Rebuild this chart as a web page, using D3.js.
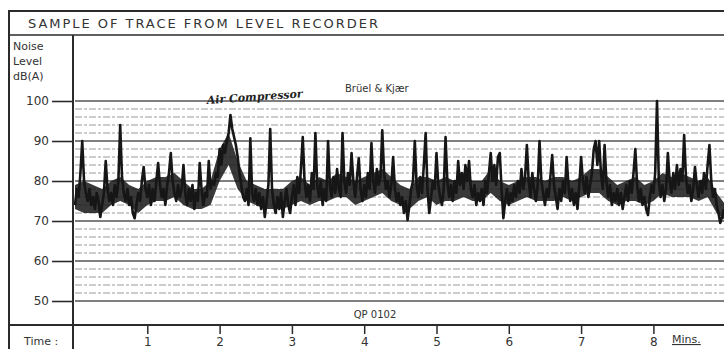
<!DOCTYPE html>
<html>
<head>
<meta charset="utf-8">
<script src="https://cdn.jsdelivr.net/npm/d3@7"></script>
<style>
  body { margin: 0; background: #fff; }
  svg { display: block; }
  .lbl { font-family: "DejaVu Sans", sans-serif; fill: #333; }
</style>
</head>
<body>
<svg id="chart" width="724" height="349"></svg>
<script>
// level axis (dB(A)) and time axis (minutes)
const dbTicks = [50, 60, 70, 80, 90, 100];
const timeTicks = [1, 2, 3, 4, 5, 6, 7, 8];
const stepMins = 0.025;
const bandStep = 0.125;

// trace samples, one every 0.025 min
const trace = [
  74,78,76,82,90,80,77,75,78,74,76,73,77,75,71,74,77,85,78,75,
  77,74,79,76,80,94,81,77,75,78,74,76,72,70.7,74,77,75,80,83.5,78,
  76,79,74,78,75,80,84.5,79,76,78,74,79,82,87,80,77,75,79,76,78,
  84,77,74,78,75,79,73,77,75,84.5,78,74,77,76,85,78,80,79,82,81,
  88,84,89,87,90,92,96.5,93,91,89,86,82,79,76,75,78,74,90.7,77,75,
  78,74,77,73,76,71,75,79,93,78,74,72,76,73,77,71,75,78,74,72,
  76,79,74,81,77,83,91,80,76,79,75,82,78,92,79,76,80,74,78,75,
  90,79,76,81,77,83,78,76,92,80,77,82,79,87,80,76,81,85.7,78,75,
  79,76,82,78,89.5,80,77,83,79,81,92.7,82,78,80,76,79,86,78,75,77,
  74,76,72,75,70.2,74,78,80,90,79,76,81,77,84,92,78,72,76,80,78,
  87,79,76,74,78,91,80,76,79,75,80,77,85,79,82,78,84,80,85,78,
  76,79,74,77,75,78,74,80,77,82,87,80,84,79,86,87,78,70.7,75,78,
  74,77,75,79,76,80,77,83,78,81,89,80,76,82,78,75,79,90,80,77,
  74,78,76,81,86.5,79,76,73,78,75,80,77,86,79,75,78,74,77,73,79,
  86,80,77,81,76,79,82,88,90,84,90,82,78,89,80,76,79,74,77,75,
  78,74,77,73,76,79,75,80,77,82,88,79,75,78,74,76,73,71.5,76,79,
  77,82,100,80,76,79,75,78,87,80,77,82,78,84,79,83,80,91.5,81,77,
  79,75,78,83.5,79,76,80,77,82,78,84,89,80,76,78,74,72,69.5,71,73
];

// dense part of the pen trace, low / high edge every 0.125 min
const bandLow = [
  73,72,72,72,74,75,74,72,74,75,75,76,74,73,73,74,
  80,84,78,75,74,73,73,73,74,75,74,75,75,76,76,74,
  75,76,77,75,74,73,75,76,74,75,75,76,75,75,77,75,
  74,75,76,75,75,75,76,75,76,77,77,75,74,75,75,74,
  75,77,76,76,76,75,76,72,70
];
const bandHigh = [
  79,80,79,78,80,81,79,78,80,81,81,82,80,78,78,80,
  88,92,85,80,79,78,78,78,80,81,79,81,80,82,81,80,
  81,82,83,81,79,78,81,81,80,81,80,82,80,80,83,80,
  79,80,81,81,80,81,81,80,81,83,83,81,79,80,81,79,
  80,82,81,82,81,80,81,77,74
];

const svg = d3.select('#chart');
const ink = '#2b2b2b';

const x = d3.scaleLinear().domain([0, 9]).range([75, 725.7]);
const y = d3.scaleLinear().domain([50, 100]).range([301, 101]);

// frame
svg.append('line').attr('x1', 9).attr('x2', 724).attr('y1', 11).attr('y2', 11)
  .attr('stroke', ink).attr('stroke-width', 2);
svg.append('line').attr('x1', 9).attr('x2', 9).attr('y1', 10).attr('y2', 349)
  .attr('stroke', ink).attr('stroke-width', 2);
svg.append('line').attr('x1', 9).attr('x2', 724).attr('y1', 35).attr('y2', 35)
  .attr('stroke', ink).attr('stroke-width', 1.5);
svg.append('line').attr('x1', 73).attr('x2', 73).attr('y1', 35).attr('y2', 349)
  .attr('stroke', ink).attr('stroke-width', 2);
svg.append('line').attr('x1', 9).attr('x2', 724).attr('y1', 325).attr('y2', 325)
  .attr('stroke', ink).attr('stroke-width', 2);

svg.append('text').attr('class', 'lbl')
  .attr('x', 28).attr('y', 28)
  .attr('textLength', 350).attr('lengthAdjust', 'spacing')
  .style('font-size', '13px')
  .text('SAMPLE OF TRACE FROM LEVEL RECORDER');

// y label
['Noise', 'Level', 'dB(A)'].forEach((t, i) => {
  svg.append('text').attr('class', 'lbl')
    .attr('x', 13).attr('y', 50 + i * 15)
    .style('font-size', '11px').text(t);
});

// grid: minor dashed every 2 dB, major solid every 10 dB
const minor = d3.range(50, 101, 2).filter(d => d % 10 !== 0);
svg.append('g').selectAll('line').data(minor).join('line')
  .attr('x1', 75).attr('x2', 724)
  .attr('y1', d => y(d)).attr('y2', d => y(d))
  .attr('stroke', '#9a9a9a').attr('stroke-width', 1)
  .attr('stroke-dasharray', '7,2,3,2');

svg.append('g').selectAll('line').data(dbTicks).join('line')
  .attr('x1', 75).attr('x2', 724)
  .attr('y1', d => y(d)).attr('y2', d => y(d))
  .attr('stroke', '#555').attr('stroke-width', 1.6);

const yAxis = svg.append('g')
  .attr('transform', 'translate(73,0)')
  .call(d3.axisLeft(y).tickValues(dbTicks).tickSize(21).tickPadding(3));
yAxis.select('.domain').remove();
yAxis.selectAll('line').attr('stroke', ink).attr('stroke-width', 1.6);
yAxis.selectAll('text').attr('class', 'lbl')
  .style('font-size', '12px').attr('fill', '#333');

// annotations
svg.append('text').attr('class', 'lbl')
  .attr('x', 345).attr('y', 92).style('font-size', '10px')
  .text('Brüel & Kjær');
svg.append('text')
  .attr('x', 207).attr('y', 104)
  .style('font-family', '"DejaVu Serif", serif')
  .style('font-style', 'italic').style('font-size', '11px')
  .style('font-weight', 'bold')
  .attr('fill', '#222')
  .attr('transform', 'rotate(-4,207,104)')
  .text('Air Compressor');
svg.append('text').attr('class', 'lbl')
  .attr('x', 375).attr('y', 318).attr('text-anchor', 'middle')
  .style('font-size', '10px').text('QP 0102');

// trace
svg.append('defs').append('clipPath').attr('id', 'clip')
  .append('rect').attr('x', 74).attr('y', 36).attr('width', 650).attr('height', 288);

const band = d3.area()
  .x((d, i) => x(i * bandStep))
  .y0((d, i) => y(bandLow[i]))
  .y1((d, i) => y(bandHigh[i]));
svg.append('path')
  .datum(bandLow)
  .attr('clip-path', 'url(#clip)')
  .attr('d', band)
  .attr('fill', '#161616')
  .attr('opacity', 0.85);

const line = d3.line()
  .x((d, i) => x(i * stepMins))
  .y(d => y(d));
svg.append('path')
  .datum(trace)
  .attr('clip-path', 'url(#clip)')
  .attr('d', line)
  .attr('fill', 'none')
  .attr('stroke', '#161616')
  .attr('stroke-width', 2.6)
  .attr('stroke-linejoin', 'round');

// time axis
const xAxis = svg.append('g')
  .attr('transform', 'translate(0,326)')
  .call(d3.axisBottom(x).tickValues(timeTicks).tickSize(8).tickPadding(3));
xAxis.select('.domain').remove();
xAxis.selectAll('line').attr('stroke', ink).attr('stroke-width', 1.5);
xAxis.selectAll('text').attr('class', 'lbl')
  .style('font-size', '12px').attr('fill', '#333');

svg.append('text').attr('class', 'lbl')
  .attr('x', 24).attr('y', 345).style('font-size', '11px').text('Time :');
svg.append('text').attr('class', 'lbl')
  .attr('x', 672).attr('y', 343).style('font-size', '11px')
  .style('text-decoration', 'underline').text('Mins.');
</script>
</body>
</html>
